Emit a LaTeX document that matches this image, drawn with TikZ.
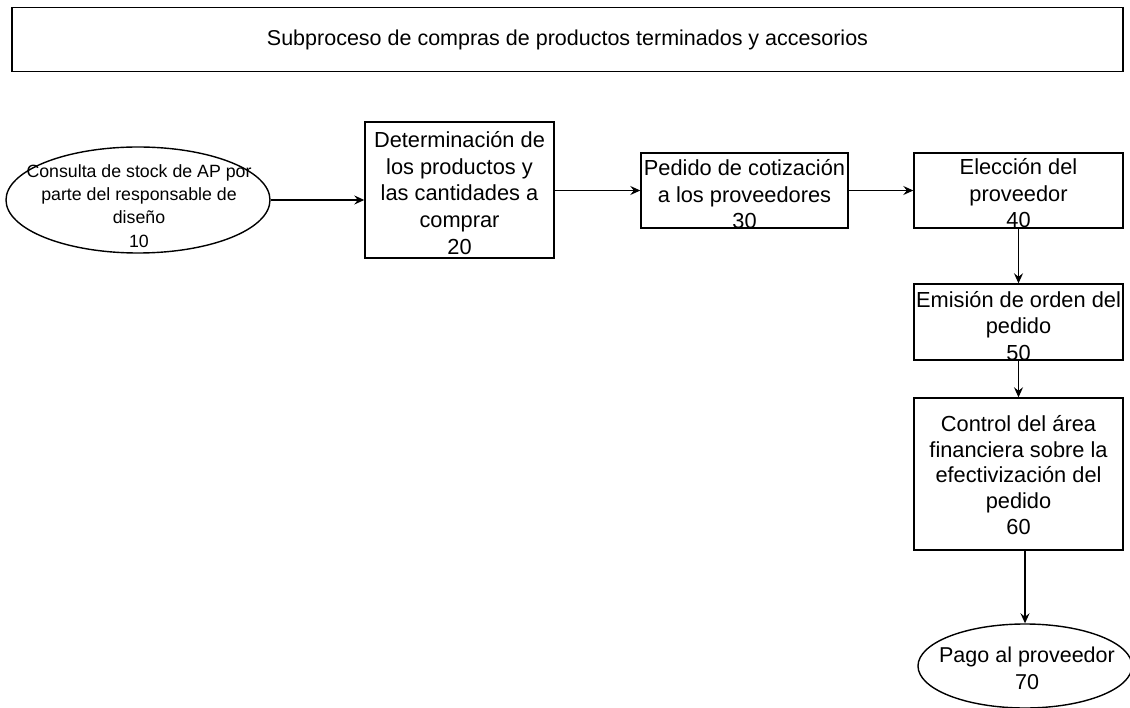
\documentclass[tikz,border=0pt]{standalone}
\usepackage{fontspec}
\setmainfont{Liberation Sans}
\usetikzlibrary{arrows.meta,shapes.geometric,calc}
\begin{document}
\begin{tikzpicture}[x=1pt,y=-1pt,
  boxnode/.style={draw,line width=1.4pt,rectangle,inner sep=0pt},
  boxtext/.style={inner sep=0pt,align=center,font=\fontsize{21.8}{26.5}\selectfont},
  ellnode/.style={draw,line width=1.4pt,ellipse,inner sep=0pt},
  arr/.style={line width=1.4pt,-{Stealth[length=10pt,width=9pt,inset=3.5pt]}}]
\useasboundingbox (0,0) rectangle (1130,708);
\fill[white] (0,0) rectangle (1130,708);
% title
\node[draw,line width=1.6pt,rectangle,minimum width=1111pt,minimum height=64pt,inner sep=0pt,
  font=\fontsize{21.5}{26}\selectfont] (title) at (567.5,39.5)
  {Subproceso de compras de productos terminados y accesorios};
% nodes
\node[ellnode,minimum width=264pt,minimum height=106pt] (n10) at (138,200) {};
\node[boxtext,font=\fontsize{17.75}{23.3}\selectfont] (t10) at (139,206)
  {Consulta de stock de AP por\\parte del responsable de\\diseño\\10};
\node[boxnode,minimum width=189pt,minimum height=136pt] (n20) at (459.5,190) {};
\node[boxtext,font=\fontsize{21.8}{26.8}\selectfont] (t20) at ($(n20.center)+(0,3)$)
  {Determinación de\\los productos y\\las cantidades a\\comprar\\20};
\node[boxnode,minimum width=207pt,minimum height=75pt] (n30) at (744.5,190.5) {};
\node[boxtext] (t30) at ($(n30.center)+(0,4)$)
  {Pedido de cotización\\a los proveedores\\30};
\node[boxnode,minimum width=209pt,minimum height=75pt] (n40) at (1018.5,190.5) {};
\node[boxtext] (t40) at ($(n40.center)+(0,3)$)
  {Elección del\\proveedor\\40};
\node[boxnode,minimum width=209pt,minimum height=76pt] (n50) at (1018.5,322) {};
\node[boxtext] (t50) at ($(n50.center)+(0,4)$)
  {Emisión de orden del\\pedido\\50};
\node[boxnode,minimum width=209pt,minimum height=152pt] (n60) at (1018.5,474) {};
\node[boxtext,font=\fontsize{21.8}{25.7}\selectfont] (t60) at ($(n60.center)+(0,1)$)
  {Control del área\\financiera sobre la\\efectivización del\\pedido\\60};
\node[ellnode,minimum width=214pt,minimum height=84pt] (n70) at (1025,666) {};
\node[boxtext,font=\fontsize{21.5}{27}\selectfont] (t70) at (1027,668)
  {Pago al proveedor\\70};
% connectors
\draw[arr] (n10.east) -- (n10.east -| n20.west);
\draw[arr] (n20.east |- n30.west) -- (n30.west);
\draw[arr] (n30.east) -- (n40.west);
\draw[arr] (n40.south) -- (n50.north);
\draw[arr] (n50.south) -- (n60.north);
\draw[arr] (n60.south -| n70.north) -- (n70.north);
\end{tikzpicture}
\end{document}
